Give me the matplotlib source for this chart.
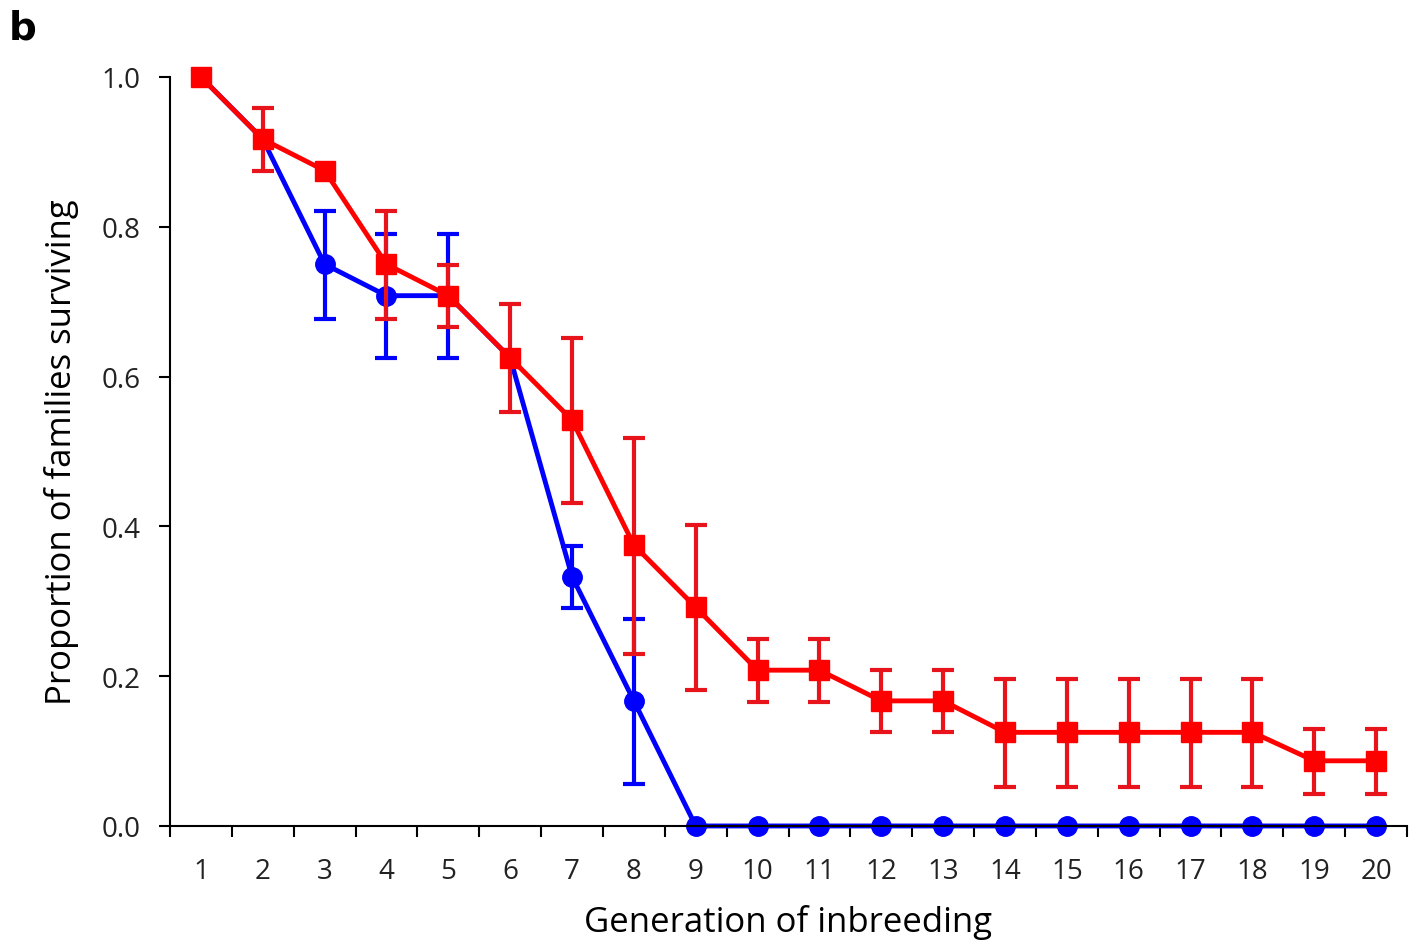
import matplotlib.pyplot as plt
import numpy as np

generations = list(range(1, 21))

# blue series (circles)
blue_vals = [1.0, 0.917, 0.75, 0.708, 0.708, 0.625, 0.333, 0.167,
             0, 0, 0, 0, 0, 0, 0, 0, 0, 0, 0, 0]
blue_low = [np.nan, np.nan, 0.677, 0.625, 0.625, np.nan, 0.291, 0.056,
            np.nan, np.nan, np.nan, np.nan, np.nan, np.nan, np.nan, np.nan,
            np.nan, np.nan, np.nan, np.nan]
blue_high = [np.nan, np.nan, 0.821, 0.79, 0.79, np.nan, 0.374, 0.276,
             np.nan, np.nan, np.nan, np.nan, np.nan, np.nan, np.nan, np.nan,
             np.nan, np.nan, np.nan, np.nan]

# red series (squares)
red_vals = [1.0, 0.917, 0.875, 0.75, 0.708, 0.625, 0.542, 0.375, 0.292,
            0.208, 0.208, 0.167, 0.167, 0.125, 0.125, 0.125, 0.125, 0.125,
            0.087, 0.087]
red_low = [np.nan, 0.874, np.nan, 0.677, 0.666, 0.553, 0.431, 0.230, 0.182,
           0.166, 0.166, 0.125, 0.125, 0.052, 0.052, 0.052, 0.052, 0.052,
           0.043, 0.043]
red_high = [np.nan, 0.959, np.nan, 0.821, 0.749, 0.697, 0.652, 0.518, 0.402,
            0.25, 0.25, 0.208, 0.208, 0.196, 0.196, 0.196, 0.196, 0.196,
            0.13, 0.13]

font = 'Open Sans'


def err(vals, low, high):
    v = np.array(vals)
    return [v - np.array(low), np.array(high) - v]


fig = plt.figure(figsize=(14.26, 9.45), dpi=100)
ax = fig.add_axes([0.1192, 0.1249, 0.8675, 0.7926])

ax.errorbar(generations, blue_vals, yerr=err(blue_vals, blue_low, blue_high),
            color='#0000FF', ecolor='#0000FF', lw=3.5, elinewidth=3,
            capsize=8, capthick=3, marker='o', markersize=14, zorder=2)
ax.errorbar(generations, red_vals, yerr=err(red_vals, red_low, red_high),
            color='#FF0000', ecolor='#E8141B', lw=3.5, elinewidth=3,
            capsize=8, capthick=3, marker='s', markersize=15, zorder=3)

ax.set_xlim(0.5, 20.5)
ax.set_ylim(0, 1.0)
ax.set_yticks(np.arange(0, 1.01, 0.2))
ax.set_yticklabels([f'{t:.1f}' for t in np.arange(0, 1.01, 0.2)])
ax.set_xticks(generations)
ax.set_xticks(np.arange(0.5, 21, 1), minor=True)
ax.tick_params(axis='x', which='major', length=0, pad=22)
ax.tick_params(axis='x', which='minor', length=8, width=1.5, direction='out')
ax.tick_params(axis='y', length=8, width=1.5, direction='out', pad=13)
for lab in ax.get_xticklabels() + ax.get_yticklabels():
    lab.set_fontfamily(font)
    lab.set_fontsize(20)
    lab.set_color('#222222')

for s in ['top', 'right']:
    ax.spines[s].set_visible(False)
for s in ['left', 'bottom']:
    ax.spines[s].set_linewidth(1.5)
for line in ax.lines:
    line.set_clip_on(False)

ax.set_xlabel('Generation of inbreeding', fontfamily=font, fontsize=25,
              labelpad=14)
ax.set_ylabel('Proportion of families surviving', fontfamily=font,
              fontsize=25, labelpad=16)

fig.text(0.006, 0.97, 'b', fontfamily='DejaVu Sans', fontsize=28,
         fontweight='bold', va='center')

fig.savefig('out.png', dpi=100)
